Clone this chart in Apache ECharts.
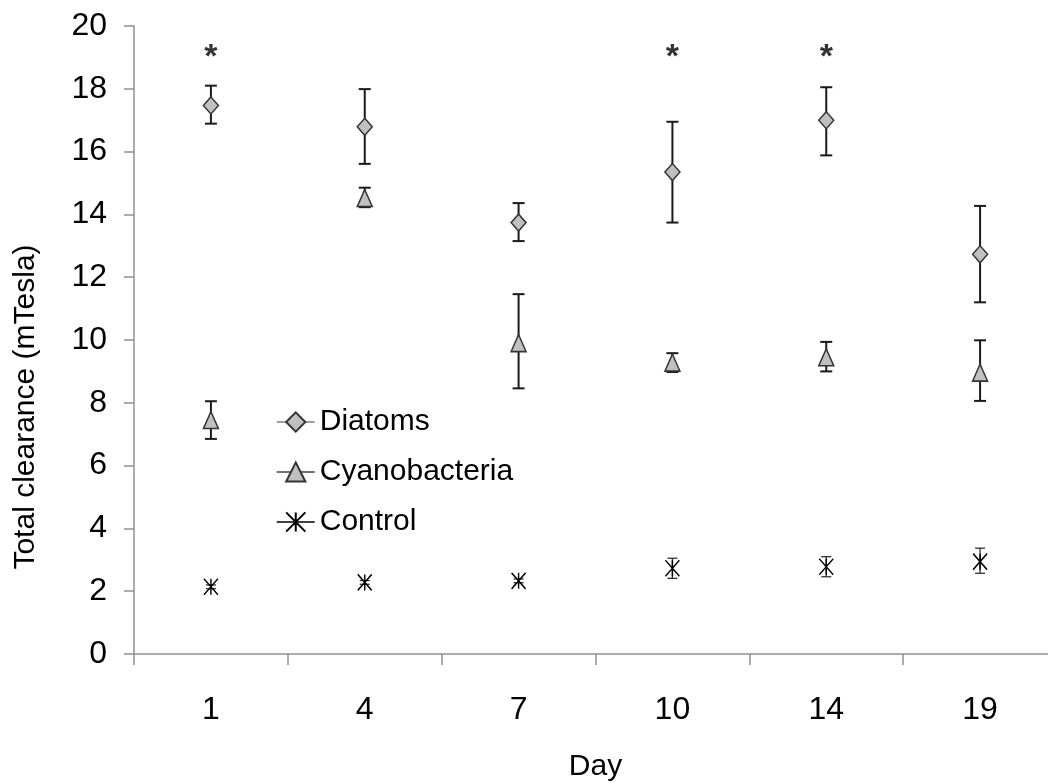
<!DOCTYPE html>
<html>
<head>
<meta charset="utf-8">
<script src="https://cdn.jsdelivr.net/npm/echarts@6/dist/echarts.min.js"></script>
<style>
  html, body { margin: 0; padding: 0; background: #fff; }
  #chart { width: 1048px; height: 783px; }
</style>
</head>
<body>
<div id="chart"></div>
<script>
// Days of sampling (category axis)
var days = ['1', '4', '7', '10', '14', '19'];

// Diatoms: mean and error bar ends
var diatomsMean = [17.47, 16.79, 13.74, 15.35, 17.0, 12.73];
var diatomsLow = [16.89, 15.61, 13.15, 13.74, 15.88, 11.2];
var diatomsHigh = [18.1, 17.99, 14.36, 16.95, 18.05, 14.27];

// Cyanobacteria
var cyanoMean = [7.45, 14.52, 9.9, 9.28, 9.45, 8.96];
var cyanoLow = [6.85, 14.23, 8.46, 8.98, 9.0, 8.06];
var cyanoHigh = [8.05, 14.85, 11.46, 9.58, 9.94, 9.99];

// Control
var controlMean = [2.14, 2.28, 2.33, 2.73, 2.78, 2.94];
var controlLow = [2.08, 2.22, 2.27, 2.41, 2.46, 2.57];
var controlHigh = [2.2, 2.34, 2.39, 3.05, 3.1, 3.37];

// Days marked as significant
var starDays = ['1', '10', '14'];
var starLevel = 19.0;

var fontName = '"Liberation Sans", Arial, sans-serif';

function errorData(low, high) {
    return days.map(function (d, i) { return [i, low[i], high[i]]; });
}

function errorSeries(name, low, high, color, width, capHalf) {
    return {
        type: 'custom',
        name: name + ' error',
        z: 1,
        silent: true,
        data: errorData(low, high),
        encode: { x: 0, y: [1, 2] },
        renderItem: function (params, api) {
            var lo = api.coord([api.value(0), api.value(1)]);
            var hi = api.coord([api.value(0), api.value(2)]);
            var st = { stroke: color, lineWidth: width };
            return {
                type: 'group',
                children: [
                    { type: 'line', shape: { x1: lo[0], y1: lo[1], x2: hi[0], y2: hi[1] }, style: st },
                    { type: 'line', shape: { x1: hi[0] - capHalf, y1: hi[1], x2: hi[0] + capHalf, y2: hi[1] }, style: st },
                    { type: 'line', shape: { x1: lo[0] - capHalf, y1: lo[1], x2: lo[0] + capHalf, y2: lo[1] }, style: st }
                ]
            };
        }
    };
}

var asterisk = 'path://M0,0L14,16M14,0L0,16M7,0L7,16';

var chart = echarts.init(document.getElementById('chart'));

var option = {
    animation: false,
    backgroundColor: '#fff',
    grid: { left: 134, top: 26, right: -9, bottom: 129, outerBoundsMode: 'none', containLabel: false },
    legend: {
        left: 271,
        top: 402,
        orient: 'vertical',
        itemWidth: 38,
        itemHeight: 24,
        itemGap: 20,
        textStyle: { fontFamily: fontName, fontSize: 30, color: '#000' },
        data: [
            { name: 'Diatoms', lineStyle: { color: '#808080', width: 1.5, opacity: 1 } },
            { name: 'Cyanobacteria', lineStyle: { color: '#404040', width: 1.5, opacity: 1 } },
            { name: 'Control', lineStyle: { color: '#000', width: 1.5, opacity: 1 } }
        ]
    },
    xAxis: {
        type: 'category',
        data: days,
        boundaryGap: true,
        name: 'Day',
        nameLocation: 'middle',
        nameGap: 98,
        nameTextStyle: { fontFamily: fontName, fontSize: 30, color: '#000' },
        axisLine: { lineStyle: { color: '#909090', width: 1.5 } },
        axisTick: { show: true, length: 11, alignWithLabel: false, lineStyle: { color: '#909090', width: 1.5 } },
        axisLabel: { fontFamily: fontName, fontSize: 32, color: '#000', margin: 40 },
        splitLine: { show: false }
    },
    yAxis: {
        type: 'value',
        min: 0,
        max: 20,
        interval: 2,
        name: 'Total clearance (mTesla)',
        nameLocation: 'middle',
        nameRotate: 90,
        nameGap: 93,
        nameTextStyle: { fontFamily: fontName, fontSize: 30, color: '#000', padding: [0, 134, 0, 0] },
        axisLine: { show: true, lineStyle: { color: '#909090', width: 1.5 } },
        axisTick: { show: true, length: 10, lineStyle: { color: '#909090', width: 1.5 } },
        axisLabel: { fontFamily: fontName, fontSize: 32, color: '#000', margin: 27 },
        splitLine: { show: false }
    },
    series: [
        errorSeries('Diatoms', diatomsLow, diatomsHigh, '#1a1a1a', 2, 6),
        errorSeries('Cyanobacteria', cyanoLow, cyanoHigh, '#1a1a1a', 2, 6),
        errorSeries('Control', controlLow, controlHigh, '#333', 1.3, 5),
        {
            name: 'Diatoms',
            type: 'line',
            z: 3,
            data: diatomsMean,
            symbol: 'diamond',
            symbolSize: [15, 17],
            showSymbol: true,
            lineStyle: { opacity: 0 },
            itemStyle: { color: '#c0c0c0', borderColor: '#333', borderWidth: 1.5 },
            emphasis: { disabled: true }
        },
        {
            name: 'Cyanobacteria',
            type: 'line',
            z: 3,
            data: cyanoMean,
            symbol: 'triangle',
            symbolSize: [15, 17],
            showSymbol: true,
            lineStyle: { opacity: 0 },
            itemStyle: { color: '#c0c0c0', borderColor: '#333', borderWidth: 1.5 },
            emphasis: { disabled: true }
        },
        {
            name: 'Control',
            type: 'line',
            z: 3,
            data: controlMean,
            symbol: asterisk,
            symbolSize: [14, 16],
            showSymbol: true,
            lineStyle: { opacity: 0 },
            itemStyle: { color: 'rgba(0,0,0,0)', borderColor: '#000', borderWidth: 1.5 },
            emphasis: { disabled: true }
        },
        {
            name: 'significance',
            type: 'scatter',
            z: 4,
            silent: true,
            symbolSize: 1,
            itemStyle: { color: 'rgba(0,0,0,0)' },
            data: starDays.map(function (d) { return [d, starLevel]; }),
            label: {
                show: true,
                position: 'inside',
                formatter: '*',
                fontFamily: fontName,
                fontSize: 34,
                fontWeight: 'bold',
                color: '#000'
            }
        }
    ]
};

chart.setOption(option);
</script>
</body>
</html>
